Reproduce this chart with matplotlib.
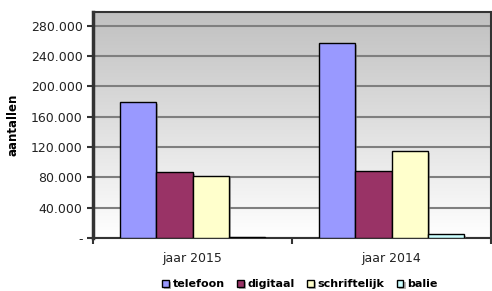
import numpy as np
import matplotlib.pyplot as plt
import matplotlib.patheffects as pe
from matplotlib.ticker import FuncFormatter

# data
years = ['jaar 2015', 'jaar 2014']
telefoon = [179000, 257000]
digitaal = [86500, 89000]
schriftelijk = [82000, 115000]
balie = [1500, 4800]

series = [('telefoon', telefoon, '#9999FF'),
          ('digitaal', digitaal, '#993366'),
          ('schriftelijk', schriftelijk, '#FFFFCC'),
          ('balie', balie, '#CCFFFF')]

fig = plt.figure(figsize=(4.92, 2.91), dpi=100)
ax = fig.add_axes([93 / 492, 53 / 291, 398 / 492, 226 / 291])

# grey-to-white gradient background
grad = np.linspace(0, 1, 256).reshape(-1, 1)
ax.imshow(grad, cmap=plt.matplotlib.colors.LinearSegmentedColormap.from_list('g', ['#FFFFFF', '#C0C0C0']),
          extent=[0, 1, 0, 1], transform=ax.transAxes, aspect='auto', zorder=0, origin='lower')

x = np.arange(len(years))
w = 0.183
shadow = [pe.withSimplePatchShadow(offset=(1.5, -1.5), shadow_rgbFace='#808080', alpha=0.6)]
for i, (name, vals, col) in enumerate(series):
    ax.bar(x + (i - 1.5) * w, vals, w, color=col, edgecolor='black', linewidth=1,
           label=name, zorder=3, path_effects=shadow)

ax.set_xlim(-0.5, 1.5)
ax.set_ylim(0, 298000)
ax.set_yticks(np.arange(0, 280001, 40000))
ax.yaxis.set_major_formatter(FuncFormatter(lambda v, p: '-' if v == 0 else f'{int(v):,}'.replace(',', '.')))
ax.yaxis.grid(True, color='#7F7F7F', linewidth=1.5, zorder=1)
ax.set_axisbelow(True)

ax.set_xticks(x)
ax.set_xticklabels(years)
ax.set_xticks([-0.5, 0.5, 1.5], minor=True)
ax.tick_params(axis='x', which='major', length=0, pad=10, labelsize=9, colors='#222222')
ax.tick_params(axis='x', which='minor', length=4, width=1.5, color='#333333', direction='out')
ax.tick_params(axis='y', length=4, width=1.5, color='#333333', labelsize=9, labelcolor='#222222')

ax.spines['left'].set_linewidth(2.5)
ax.spines['left'].set_color('#333333')
ax.spines['bottom'].set_linewidth(1.5)
ax.spines['bottom'].set_color('#333333')
for s in ['top', 'right']:
    ax.spines[s].set_linewidth(1.5)
    ax.spines[s].set_color('#333333')

ax.set_ylabel('aantallen', fontsize=8.5, fontweight='bold', labelpad=8)

leg = fig.legend(loc='center', bbox_to_anchor=(300 / 492, 1 - 284 / 291), ncol=4, frameon=False,
                 prop={'size': 8, 'weight': 'bold'}, handlelength=0.6, handleheight=0.6,
                 handletextpad=0.35, columnspacing=1.1)

fig.savefig('out.png', dpi=100)
